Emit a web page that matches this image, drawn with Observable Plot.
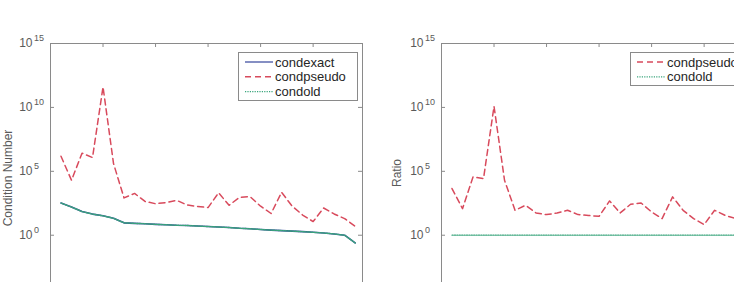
<!DOCTYPE html>
<html>
<head>
<meta charset="utf-8">
<script src="https://cdn.jsdelivr.net/npm/d3@7"></script>
<script src="https://cdn.jsdelivr.net/npm/@observablehq/plot@0.6"></script>
<style>
  html, body { margin: 0; padding: 0; overflow: hidden; background: #fff; }
  #wrap { position: relative; width: 734px; height: 282px; overflow: hidden; }
  #wrap svg { position: absolute; top: 0; max-width: none !important; }
</style>
</head>
<body>
<div id="wrap"></div>
<script>
// Problem index (1..29)
const problem = [1, 2, 3, 4, 5, 6, 7, 8, 9, 10, 11, 12, 13, 14, 15, 16, 17, 18, 19, 20, 21, 22, 23, 24, 25, 26, 27, 28, 29];

// Condition numbers
const condexact  = [330, 160, 71, 45, 33, 21, 9.3, 8.5, 7.9, 7.1, 6.6, 6.0, 5.8, 5.2, 4.8, 4.4, 4.0, 3.5, 3.2, 2.8, 2.5, 2.3, 2.1, 1.9, 1.7, 1.5, 1.26, 1.0, 0.25];
const condpseudo = [1.5e6, 2.0e4, 2.6e6, 1.2e6, 4.0e11, 4.0e5, 830, 1860, 440, 290, 360, 540, 230, 180, 145, 2090, 220, 930, 1050, 186, 50, 2290, 190, 38, 11.7, 135, 46, 20, 5.0];
const condold    = [330, 160, 71, 45, 33, 21, 9.3, 8.5, 7.9, 7.1, 6.6, 6.0, 5.8, 5.2, 4.8, 4.4, 4.0, 3.5, 3.2, 2.8, 2.5, 2.3, 2.1, 1.9, 1.7, 1.5, 1.26, 1.0, 0.25];

// Ratios relative to condexact
const ratioPseudo = [4500, 120, 3.6e4, 2.7e4, 1.2e10, 2.0e4, 89, 219, 55, 41, 55, 89, 41, 35, 30, 480, 55, 263, 331, 66, 20, 1000, 89, 20, 6.8, 89, 36, 20, 20];
const ratioOld    = [1, 1, 1, 1, 1, 1, 1, 1, 1, 1, 1, 1, 1, 1, 1, 1, 1, 1, 1, 1, 1, 1, 1, 1, 1, 1, 1, 1, 1];

// Axis ticks
const xTicks = [5, 10, 15, 20, 25];
const yTicks = [1, 1e5, 1e10, 1e15];
const yTickExponents = ["0", "5", "10", "15"];

const xDomain = [0, 29.7];
const yDomain = [2e-4, 1e15];

const BLUE = "#33449a";
const RED = "#d84a5c";
const GREEN = "#3aa57c";
const AXIS = "#8a8a8a";
const LABEL = "#5a5a5a";
const FONT = "'Liberation Sans', Arial, Helvetica, sans-serif";

const H = 282, MT = 43;

function panel({width, marginLeft, marginRight, lines, left}) {
  const fw = width - marginLeft - marginRight;
  const fh = H - MT;
  const svg = Plot.plot({
    width, height: H,
    marginTop: MT, marginBottom: 0, marginLeft, marginRight,
    style: {fontFamily: FONT, background: "transparent"},
    x: {domain: xDomain, axis: null},
    y: {type: "log", domain: yDomain, axis: null},
    marks: [
      // box edges
      Plot.ruleY([yDomain[1]], {stroke: AXIS, strokeWidth: 1}),
      Plot.ruleX([xDomain[0]], {stroke: AXIS, strokeWidth: 1}),
      Plot.ruleX([xDomain[1]], {stroke: AXIS, strokeWidth: 1}),
      // inward ticks
      Plot.tickX(xTicks, {x: d => d, insetBottom: fh - 4, stroke: AXIS}),
      Plot.tickY(yTicks, {y: d => d, insetRight: fw - 4, stroke: AXIS}),
      Plot.tickY(yTicks, {y: d => d, insetLeft: fw - 4, stroke: AXIS}),
      ...lines,
      // tick labels: base and superscript exponent
      Plot.text(yTicks, {y: d => d, frameAnchor: "left", text: () => "10", dx: -18, textAnchor: "end", fontSize: 12, fill: LABEL}),
      Plot.text(yTicks, {y: d => d, frameAnchor: "left", text: (d, i) => yTickExponents[i], dx: -16.5, dy: -5, textAnchor: "start", fontSize: 9, fill: LABEL})
    ]
  });
  svg.style.left = left + "px";
  svg.style.maxWidth = "none";
  return svg;
}

function addYLabel(svg, text, x, y) {
  d3.select(svg).append("text")
    .attr("transform", `translate(${x},${y}) rotate(-90)`)
    .attr("text-anchor", "middle")
    .attr("dy", "0.35em")
    .attr("font-family", FONT)
    .attr("font-size", 12)
    .attr("fill", LABEL)
    .text(text);
}

function addLegend(svg, x0, y0, w, h, entries) {
  const g = d3.select(svg).append("g");
  g.append("rect")
    .attr("x", x0 + 0.5).attr("y", y0 + 0.5)
    .attr("width", w).attr("height", h)
    .attr("fill", "#fff").attr("stroke", AXIS);
  entries.forEach((e, i) => {
    const y = y0 + 10 + i * 14.8;
    g.append("line")
      .attr("x1", x0 + 7).attr("x2", x0 + 35)
      .attr("y1", y).attr("y2", y)
      .attr("stroke", e.color)
      .attr("stroke-width", e.width)
      .attr("stroke-dasharray", e.dash || null);
    g.append("text")
      .attr("x", x0 + 37).attr("y", y)
      .attr("dy", "0.35em")
      .attr("text-anchor", "start")
      .attr("font-family", FONT)
      .attr("font-size", 13)
      .attr("fill", "#262626")
      .text(e.name);
  });
}

const rows = problem.map((x, i) => ({
  x,
  exact: condexact[i], pseudo: condpseudo[i], old: condold[i],
  rPseudo: ratioPseudo[i], rOld: ratioOld[i]
}));

const wrap = document.getElementById("wrap");

// Left panel: condition numbers
const leftSvg = panel({
  width: 370, marginLeft: 50, marginRight: 8, left: 0,
  lines: [
    Plot.line(rows, {x: "x", y: "exact", stroke: BLUE, strokeWidth: 1.6}),
    Plot.line(rows, {x: "x", y: "pseudo", stroke: RED, strokeWidth: 1.5, strokeDasharray: "6,4"}),
    Plot.line(rows, {x: "x", y: "old", stroke: GREEN, strokeWidth: 1.4, strokeDasharray: "1.2,1.2"})
  ]
});
addYLabel(leftSvg, "Condition Number", 7.5, 178);
addLegend(leftSvg, 238, 52, 119, 48, [
  {name: "condexact", color: BLUE, width: 1.2},
  {name: "condpseudo", color: RED, width: 1.5, dash: "6,4"},
  {name: "condold", color: GREEN, width: 1.2, dash: "1.2,1.2"}
]);
wrap.appendChild(leftSvg);

// Right panel: ratios to condexact
const rightSvg = panel({
  width: 400, marginLeft: 71, marginRight: 17, left: 370,
  lines: [
    Plot.line(rows, {x: "x", y: "rPseudo", stroke: RED, strokeWidth: 1.5, strokeDasharray: "6,4"}),
    Plot.line(rows, {x: "x", y: "rOld", stroke: GREEN, strokeWidth: 1.2, strokeDasharray: "1.2,1.2"})
  ]
});
addYLabel(rightSvg, "Ratio", 27, 173);
addLegend(rightSvg, 260, 52, 119, 33, [
  {name: "condpseudo", color: RED, width: 1.5, dash: "6,4"},
  {name: "condold", color: GREEN, width: 1.2, dash: "1.2,1.2"}
]);
wrap.appendChild(rightSvg);
</script>
</body>
</html>
